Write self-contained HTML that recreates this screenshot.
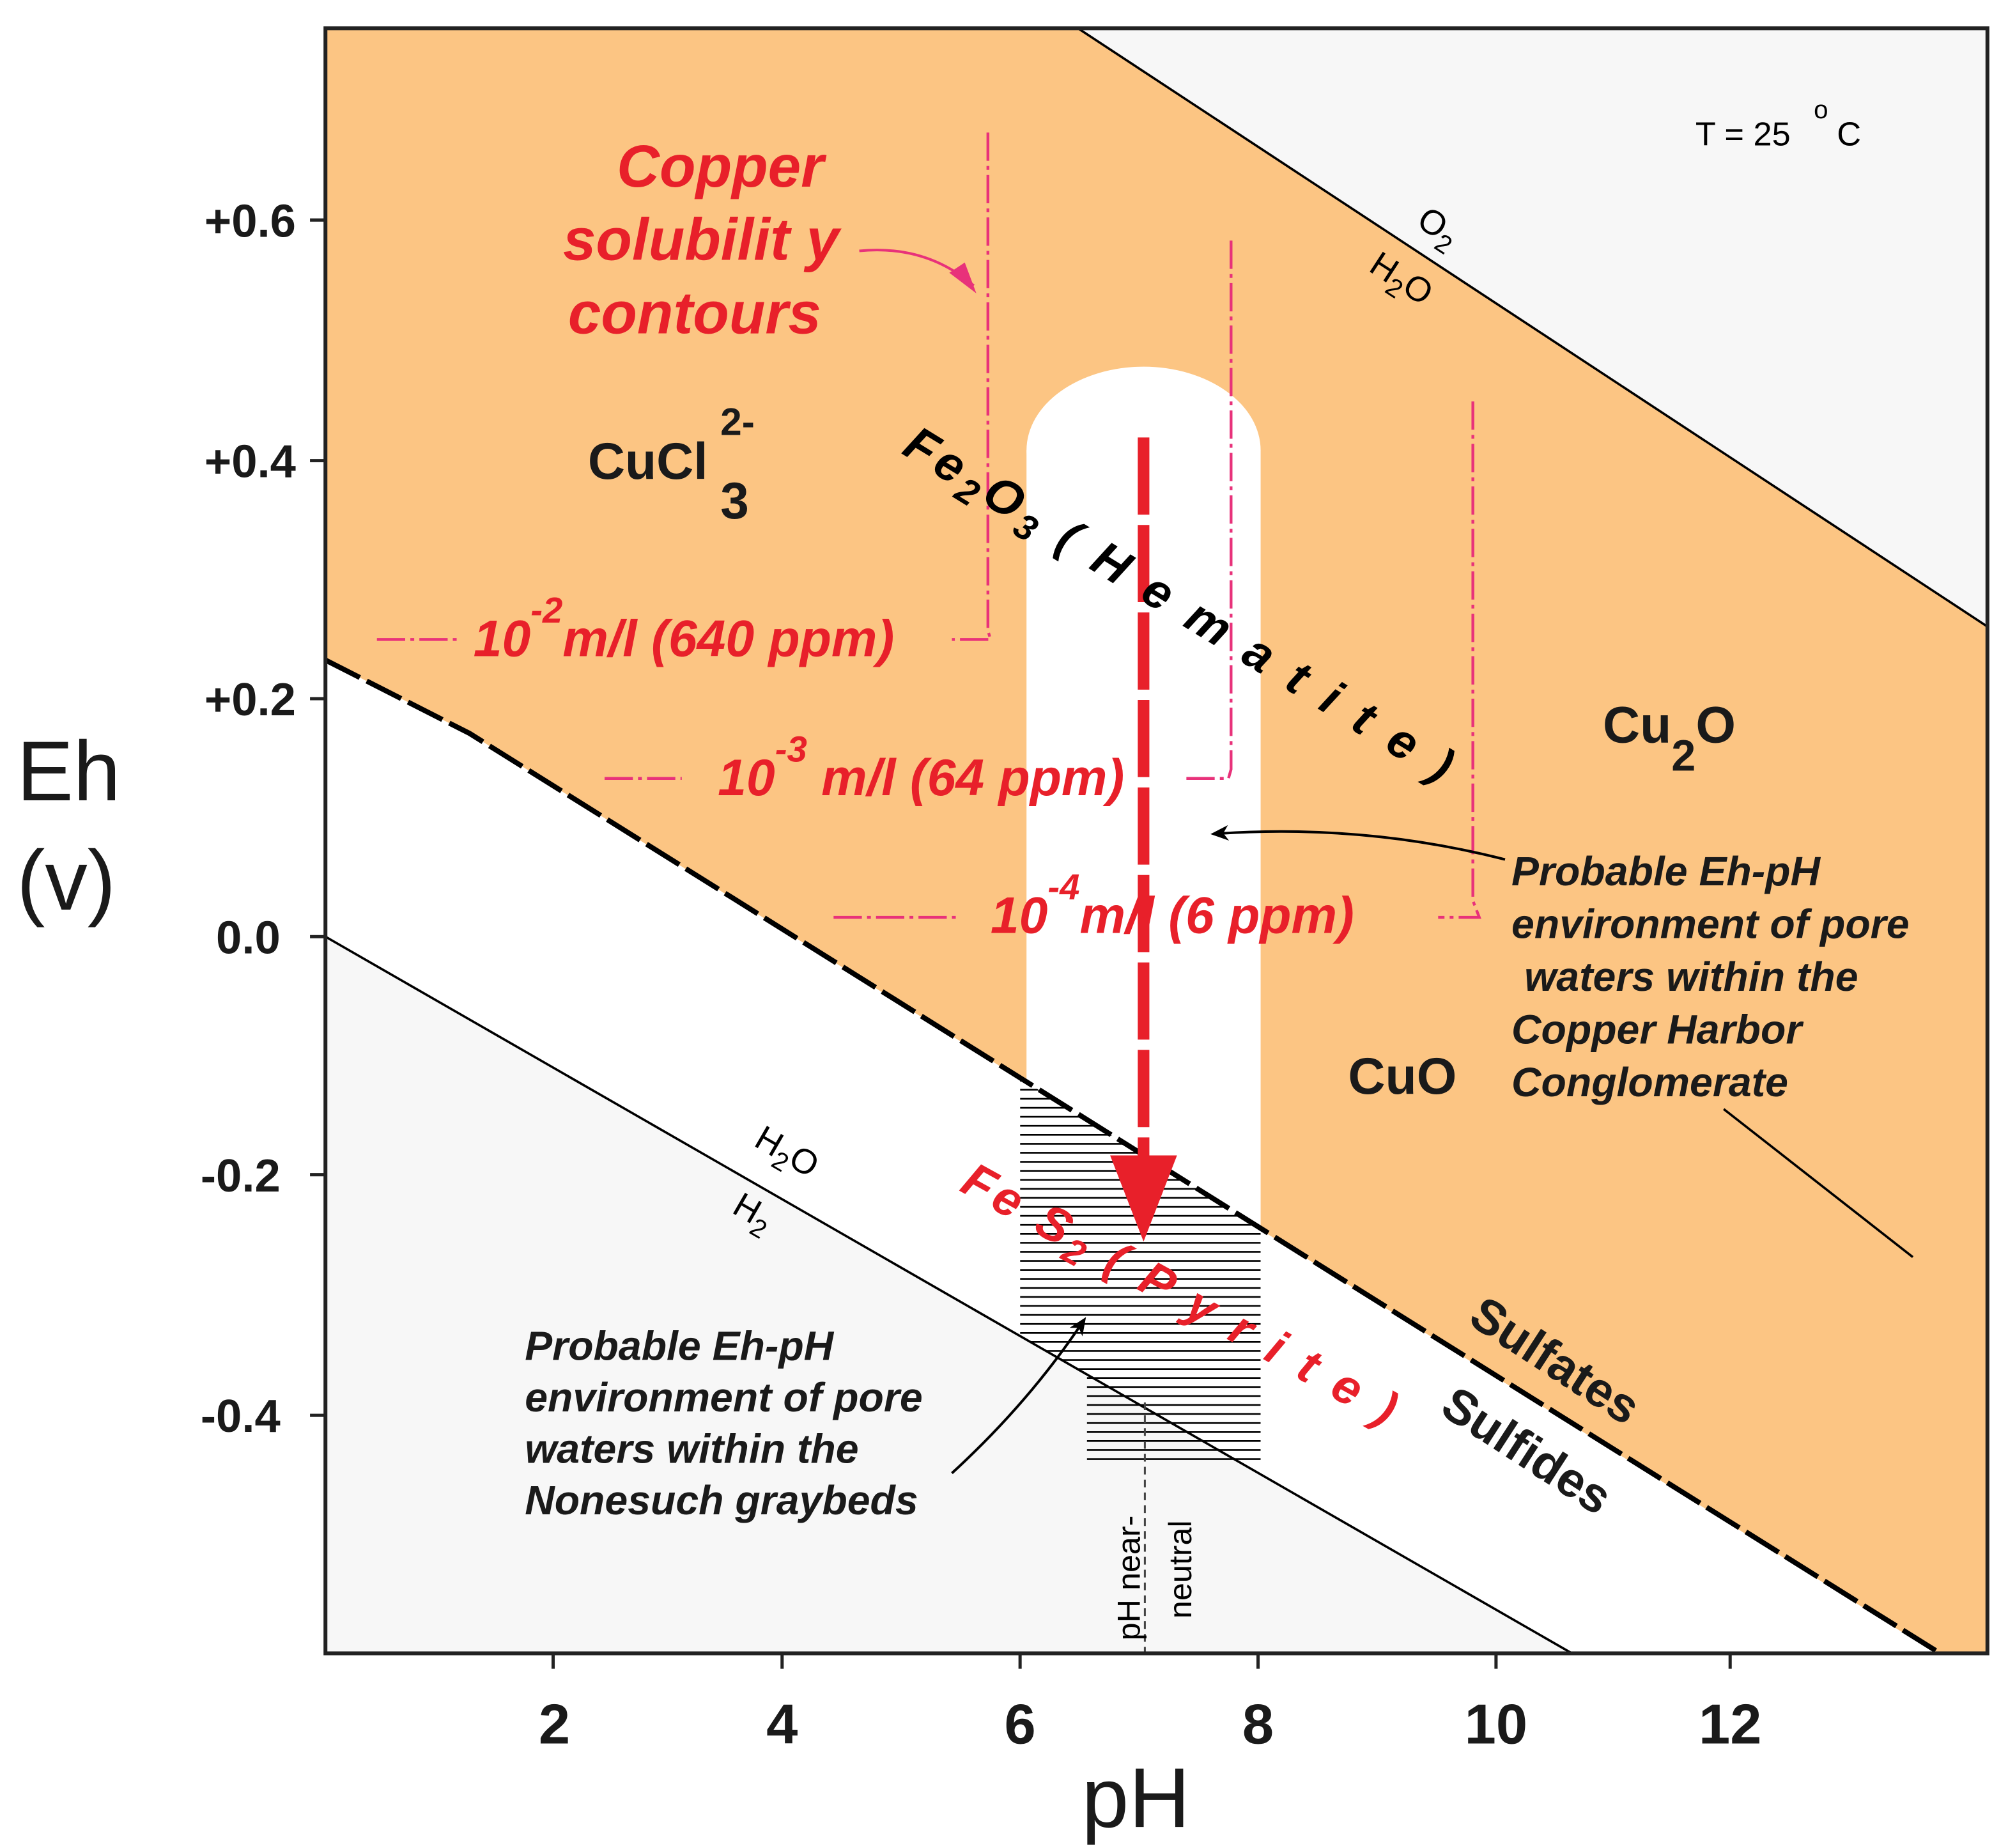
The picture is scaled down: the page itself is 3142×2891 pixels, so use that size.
<!DOCTYPE html>
<html><head><meta charset="utf-8"><style>html,body{margin:0;padding:0;background:#fff}svg{display:block}</style></head><body>
<svg width="3142" height="2891" viewBox="0 0 1561 1436.3" preserveAspectRatio="none" xmlns="http://www.w3.org/2000/svg" font-family="Liberation Sans, sans-serif">
<defs>
<clipPath id="hc"><polygon points="793,838 980,955 980,1140 845,1140 845,1068 793,1038"/></clipPath>
<marker id="ab" markerWidth="14" markerHeight="12" refX="10" refY="6" orient="auto" markerUnits="userSpaceOnUse"><path d="M0,0 L14,6 L0,12 L4,6 Z" fill="#000"/></marker>
</defs>
<rect x="253" y="22" width="1292" height="1263" fill="#fff"/>
<polygon points="838,22 1545,22 1545,487" fill="#f7f7f7"/>
<polygon points="253,22 838,22 1545,487 1545,1285 1505,1285 365,570 253,513" fill="#fcc583"/>
<polygon points="253,728 1222,1285 253,1285" fill="#f7f7f7"/>
<rect x="798" y="350" width="182" height="610" fill="#fff"/>
<ellipse cx="889" cy="350" rx="91" ry="65" fill="#fff"/>
<g clip-path="url(#hc)" stroke="#000" stroke-width="1.3">
<path d="M790 840H985M790 847H985M790 854H985M790 861H985M790 868H985M790 875H985M790 882H985M790 889H985M790 896H985M790 903H985M790 910H985M790 917H985M790 924H985M790 931H985M790 938H985M790 945H985M790 952H985M790 959H985M790 966H985M790 973H985M790 980H985M790 987H985M790 994H985M790 1001H985M790 1008H985M790 1015H985M790 1022H985M790 1029H985M790 1036H985M790 1043H985M790 1050H985M790 1057H985M790 1064H985M790 1071H985M790 1078H985M790 1085H985M790 1092H985M790 1099H985M790 1106H985M790 1113H985M790 1120H985M790 1127H985M790 1134H985"/>
</g>
<line x1="838" y1="22" x2="1545" y2="487" stroke="#000" stroke-width="1.8"/>
<line x1="253" y1="728" x2="1222" y2="1285" stroke="#000" stroke-width="1.8"/>
<polyline points="253,513 365,570 1505,1283" fill="none" stroke="#000" stroke-width="4" stroke-dasharray="30,6"/>
<line x1="890" y1="1090" x2="890" y2="1285" stroke="#444" stroke-width="1.5" stroke-dasharray="6,4"/>
<line x1="1340" y1="862" x2="1487" y2="977" stroke="#000" stroke-width="1.8"/>
<rect x="253" y="22" width="1292" height="1263" fill="none" stroke="#222" stroke-width="3"/>
<g stroke="#222" stroke-width="2.5">
<path d="M430 1285v12M608 1285v12M793 1285v12M978 1285v12M1163 1285v12M1345 1285v12"/>
<path d="M241 171h12M241 358h12M241 543h12M241 728h12M241 913h12M241 1100h12"/>
</g>
<line x1="889" y1="340" x2="889" y2="905" stroke="#e8202a" stroke-width="9" stroke-dasharray="60,8"/>
<polygon points="863,898 915,898 889,965" fill="#e8202a"/>
<g fill="none" stroke="#e8327a" stroke-width="2.2" stroke-dasharray="22,4,3,4">
<polyline points="768,103 768,490 770,497 740,497"/>
<line x1="293" y1="497" x2="355" y2="497"/>
<polyline points="957,187 957,598 955,605 920,605"/>
<line x1="470" y1="605" x2="530" y2="605"/>
<polyline points="1145,312 1145,700 1150,713 1118,713"/>
<line x1="648" y1="713" x2="745" y2="713"/>
</g>
<path d="M668,195 Q720,190 757,222" fill="none" stroke="#e8327a" stroke-width="2"/>
<polygon points="759,228 738,212 750,204" fill="#e8327a"/>
<path d="M1170,668 Q1060,640 945,648" fill="none" stroke="#000" stroke-width="2" marker-end="url(#ab)"/>
<path d="M740,1145 Q800,1090 842,1027" fill="none" stroke="#000" stroke-width="2" marker-end="url(#ab)"/>
<g font-size="26" fill="#000"><text x="1318" y="113">T = 25</text><text x="1410" y="92" font-size="20">o</text><text x="1428" y="113">C</text></g>
<g font-size="27" fill="#000">
<text transform="translate(1100,175) rotate(33)">O<tspan font-size="20" dy="7">2</tspan></text>
<text transform="translate(1063,210) rotate(33)">H<tspan font-size="20" dy="7">2</tspan><tspan dy="-7">O</tspan></text>
<text transform="translate(585,890) rotate(30)">H<tspan font-size="20" dy="7">2</tspan><tspan dy="-7">O</tspan></text>
<text transform="translate(568,942) rotate(30)">H<tspan font-size="20" dy="7">2</tspan></text>
</g>
<g font-size="46" font-weight="bold" font-style="italic" fill="#e8202a" text-anchor="middle">
<text x="560" y="145">Copper</text><text x="545" y="202">solubilit y</text><text x="540" y="259">contours</text>
</g>
<g font-weight="bold" fill="#1a1a1a" font-size="40">
<text x="457" y="372">CuCl</text><text x="560" y="338" font-size="30">2-</text><text x="560" y="403">3</text>
<text x="1246" y="577">Cu<tspan font-size="34" dy="22">2</tspan><tspan dy="-22">O</tspan></text>
<text x="1048" y="850">CuO</text>
</g>
<text transform="translate(700,352) rotate(31.5)" font-size="38" font-weight="bold" font-style="italic" fill="#000" letter-spacing="4">Fe<tspan font-size="28" dy="8">2</tspan><tspan dy="-8">O</tspan><tspan font-size="28" dy="8">3</tspan><tspan dy="-8"> ( H e m a t i t e )</tspan></text>
<text transform="translate(745,925) rotate(29)" font-size="38" font-weight="bold" font-style="italic" fill="#e8202a" letter-spacing="3.5">Fe S<tspan font-size="28" dy="8">2</tspan><tspan dy="-8"> ( P y r i t e )</tspan></text>
<g font-size="40" font-weight="bold" font-style="italic" fill="#e8202a">
<text x="368" y="510">10<tspan font-size="28" dy="-26">-2</tspan><tspan dy="26">m/l (640 ppm)</tspan></text>
<text x="558" y="618">10<tspan font-size="28" dy="-26">-3</tspan><tspan dy="26"> m/l (64 ppm)</tspan></text>
<text x="770" y="725">10<tspan font-size="28" dy="-26">-4</tspan><tspan dy="26">m/l (6 ppm)</tspan></text>
</g>
<g font-size="32" font-weight="bold" font-style="italic" fill="#1a1a1a">
<text x="1175" y="688">Probable Eh-pH</text><text x="1175" y="729">environment of pore</text><text x="1185" y="770">waters within the</text><text x="1175" y="811">Copper Harbor</text><text x="1175" y="852">Conglomerate</text>
<text x="408" y="1057">Probable Eh-pH</text><text x="408" y="1097">environment of pore</text><text x="408" y="1137">waters within the</text><text x="408" y="1177">Nonesuch graybeds</text>
</g>
<g font-size="38" font-weight="bold" fill="#1a1a1a">
<text transform="translate(1140,1028) rotate(33)">Sulfates</text>
<text transform="translate(1118,1098) rotate(33)">Sulfides</text>
</g>
<g font-size="25" fill="#000">
<text transform="translate(886,1275) rotate(-90)">pH near-</text>
<text transform="translate(926,1258) rotate(-90)">neutral</text>
</g>
<g font-size="36" font-weight="bold" fill="#1a1a1a" text-anchor="end">
<text x="230" y="184">+0.6</text><text x="230" y="371">+0.4</text><text x="230" y="556">+0.2</text><text x="218" y="741">0.0</text><text x="218" y="926">-0.2</text><text x="218" y="1113">-0.4</text>
</g>
<g font-size="44" font-weight="bold" fill="#1a1a1a" text-anchor="middle">
<text x="431" y="1355">2</text><text x="608" y="1355">4</text><text x="793" y="1355">6</text><text x="978" y="1355">8</text><text x="1163" y="1355">10</text><text x="1345" y="1355">12</text>
</g>
<g font-size="66" fill="#1a1a1a">
<text x="13" y="622">Eh</text><text x="13" y="707">(v)</text>
<text x="883" y="1420" text-anchor="middle">pH</text>
</g>
</svg>
</body></html>
